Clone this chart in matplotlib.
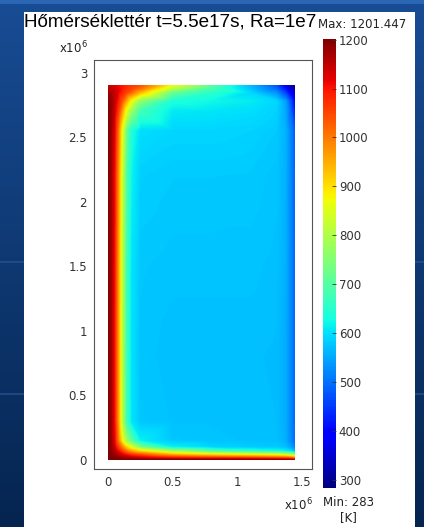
import numpy as np
import matplotlib
matplotlib.use("Agg")
import matplotlib.pyplot as plt
import matplotlib.tri as mtri
from matplotlib.patches import Rectangle
from matplotlib.ticker import FuncFormatter

# mesh nodes of the box [m]
x_nodes = np.array([0, 0.02, 0.05, 0.08, 0.11, 0.14, 0.18, 0.25, 0.5, 0.8, 1.1, 1.3, 1.37, 1.41, 1.44]) * 1e6
y_nodes = np.array([0, 0.01, 0.025, 0.045, 0.07, 0.1, 0.15, 0.3, 0.8, 1.5, 2.2, 2.55, 2.7, 2.78, 2.84, 2.875, 2.9]) * 1e6

# temperature [K] on the nodes, one row per y node (bottom -> top)
T_nodes = np.array([
    [1200, 1200, 1200, 1200, 1200, 1200, 1200, 1200, 1200, 1200, 1200, 1200, 1195, 1190, 1180],
    [1200, 1200, 1198, 1195, 1190, 1185, 1180, 1170, 1150, 1140, 1130, 1120, 1110, 1100, 1080],
    [1200, 1198, 1190, 1180, 1165, 1150, 1130, 1110, 1050, 1020, 1000, 980, 970, 950, 920],
    [1200, 1195, 1175, 1150, 1120, 1090, 1060, 1030, 930, 880, 850, 830, 810, 780, 740],
    [1200, 1192, 1160, 1110, 1060, 1010, 960, 900, 780, 690, 650, 630, 615, 595, 565],
    [1200, 1190, 1140, 1060, 990, 920, 850, 740, 615, 590, 583, 580, 570, 550, 520],
    [1200, 1186, 1120, 1000, 880, 790, 705, 615, 578, 575, 573, 571, 558, 528, 498],
    [1200, 1180, 1105, 965, 815, 685, 605, 578, 573, 573, 573, 570, 555, 523, 493],
    [1200, 1180, 1103, 963, 813, 683, 603, 576, 571, 571, 571, 569, 555, 523, 493],
    [1200, 1180, 1105, 965, 817, 687, 605, 578, 575, 575, 575, 572, 558, 525, 493],
    [1200, 1180, 1110, 975, 835, 705, 618, 585, 581, 581, 580, 575, 559, 523, 488],
    [1200, 1182, 1125, 1005, 865, 735, 640, 598, 591, 591, 588, 581, 561, 521, 483],
    [1200, 1186, 1140, 1065, 965, 865, 775, 675, 608, 605, 599, 588, 553, 493, 433],
    [1195, 1183, 1150, 1095, 1035, 965, 875, 765, 638, 623, 611, 593, 543, 473, 403],
    [1180, 1168, 1145, 1115, 1085, 1055, 1015, 935, 715, 650, 595, 535, 465, 395, 345],
    [1160, 1150, 1138, 1118, 1098, 1078, 1058, 1018, 815, 685, 575, 495, 415, 345, 315],
    [1140, 1135, 1125, 1110, 1095, 1080, 1065, 1040, 865, 705, 565, 475, 385, 325, 298],
])

T_min = 283
T_max = 1201.447
cbar_ticks = [300, 400, 500, 600, 700, 800, 900, 1000, 1100, 1200]
x_ticks = [0, 0.5e6, 1e6, 1.5e6]
y_ticks = [0, 0.5e6, 1e6, 1.5e6, 2e6, 2.5e6, 3e6]
title = "Hőmérséklettér t=5.5e17s, Ra=1e7"

W, H = 424, 527


def fx(x):
    return x / W


def fy(y):
    return 1 - y / H


fig = plt.figure(figsize=(W / 100, H / 100), dpi=100)

# slide background + white panel
bg = fig.add_axes([0, 0, 1, 1])
bg.set_zorder(-1)
grad = np.linspace(0, 1, 200)[:, None]
top = np.array([24, 76, 148]) / 255
bot = np.array([5, 37, 80]) / 255
img = top[None, None, :] * (1 - grad[:, :, None]) + bot[None, None, :] * grad[:, :, None]
bg.imshow(np.repeat(img, 2, axis=1), extent=[0, W, H, 0], aspect="auto")
bg.add_patch(Rectangle((0, 0), W, 4, color="#2a66b4", lw=0))
for yl in (262, 394):
    bg.plot([0, W], [yl, yl], color="#2a5a9a", lw=1.2, alpha=0.7)
bg.add_patch(Rectangle((24, 12), 391, H - 12, color="white", lw=0, zorder=5))
bg.set_xlim(0, W)
bg.set_ylim(H, 0)
bg.axis("off")

# field plot: linear interpolation on the node triangulation, shown as an image
ax = fig.add_axes([fx(94), fy(469), fx(312) - fx(94), fy(60) - fy(469)])
X, Y = np.meshgrid(x_nodes, y_nodes)
tri = mtri.Triangulation(X.ravel(), Y.ravel())
interp = mtri.LinearTriInterpolator(tri, T_nodes.ravel().astype(float))
xi = np.linspace(x_nodes[0], x_nodes[-1], 360)
yi = np.linspace(y_nodes[0], y_nodes[-1], 720)
Xi, Yi = np.meshgrid(xi, yi)
Ti = interp(Xi, Yi)
im = ax.imshow(Ti, origin="lower", cmap="jet", vmin=T_min, vmax=T_max,
               extent=[x_nodes[0], x_nodes[-1], y_nodes[0], y_nodes[-1]],
               interpolation="bilinear", aspect="auto")
ax.set_xlim(-0.108e6, 1.578e6)
ax.set_ylim(-0.07e6, 3.10e6)
ax.set_xticks(x_ticks)
ax.set_yticks(y_ticks)
fmt = FuncFormatter(lambda v, p: f"{v / 1e6:g}")
ax.xaxis.set_major_formatter(fmt)
ax.yaxis.set_major_formatter(fmt)
ax.tick_params(length=0, pad=5, labelsize=8.5, colors="#333333")
for s in ax.spines.values():
    s.set_color("#555555")
    s.set_linewidth(0.8)

# colour bar
cax = fig.add_axes([fx(323), fy(488), fx(336) - fx(323), fy(39) - fy(488)])
cb = fig.colorbar(im, cax=cax, ticks=cbar_ticks)
cb.outline.set_visible(False)
cax.tick_params(direction="in", length=3, width=0.6, pad=2, labelsize=8.5,
                colors="#333333")

txt = dict(color="#222222", fontsize=8.5)
fig.text(fx(24), fy(22), title, fontsize=13.6, family="Liberation Sans",
         ha="left", va="center", color="black")
fig.text(fx(318), fy(25), f"Max: {T_max}", ha="left", va="center", **txt)
fig.text(fx(323), fy(503), f"Min: {T_min}", ha="left", va="center", **txt)
fig.text(fx(348), fy(518), "[K]", ha="center", va="center", **txt)
fig.text(fx(88), fy(48), r"x10$^6$", ha="right", va="center", **txt)
fig.text(fx(313), fy(505), r"x10$^6$", ha="right", va="center", **txt)

fig.savefig("out.png", dpi=100)
